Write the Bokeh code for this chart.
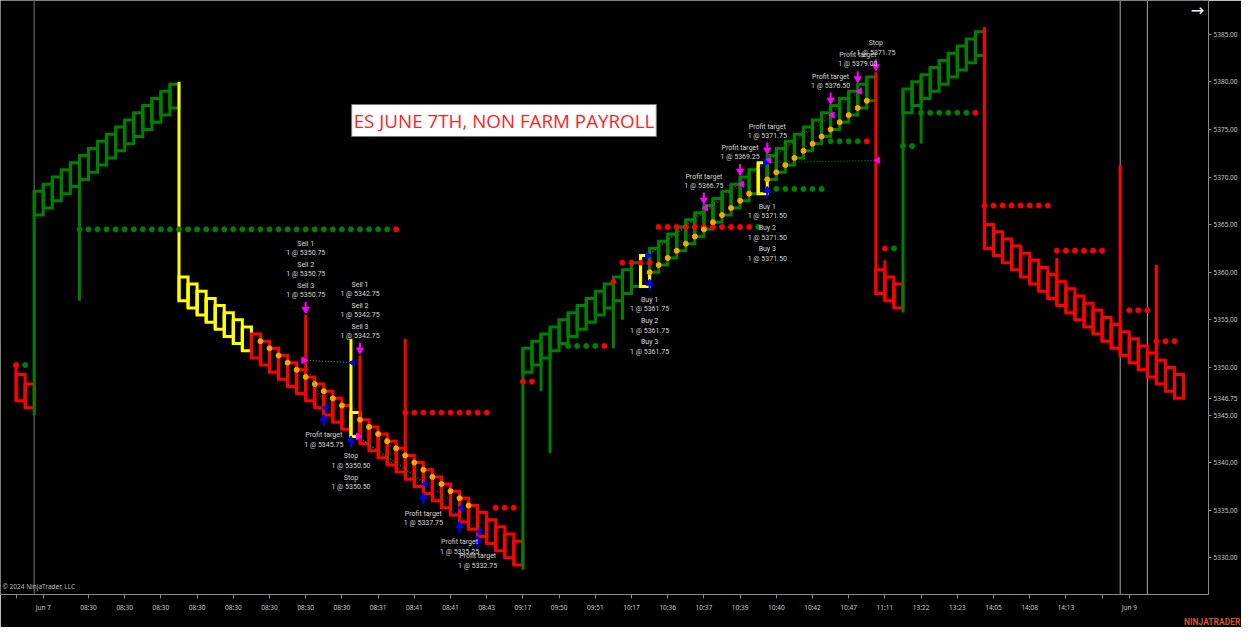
import math
from bokeh.plotting import figure
from bokeh.models import FixedTicker, PrintfTickFormatter, Label, Span, Title
from bokeh.core.properties import value
from bokeh.embed import file_html
from bokeh.resources import INLINE

# ---------------- data ----------------
bar_open = [
    5349.25, 5348.25,
    5366.00, 5366.75, 5367.50, 5368.25, 5369.00, 5369.75, 5370.50, 5371.25,
    5372.00, 5372.75, 5373.50, 5374.25, 5375.00, 5375.75, 5376.50, 5377.25,
    5359.50, 5358.75, 5358.00, 5357.25, 5356.50, 5355.75, 5355.00, 5354.25,
    5353.50, 5352.75, 5352.00, 5351.25, 5350.50, 5349.75, 5349.00, 5348.25,
    5347.50, 5346.75, 5346.00, 5345.25, 5344.50, 5343.75, 5343.00, 5342.25,
    5341.50, 5340.75, 5340.00, 5339.25, 5338.50, 5337.75, 5337.00, 5336.25,
    5335.50, 5334.75, 5334.00, 5333.25, 5332.50, 5331.75,
    5349.50, 5350.25, 5351.00, 5351.75, 5352.50, 5353.25, 5354.00, 5354.75,
    5355.50, 5356.25, 5357.00, 5357.75, 5358.50, 5358.50, 5360.00, 5360.75,
    5361.50, 5362.25, 5363.00, 5363.75, 5364.50, 5365.25, 5366.00, 5366.75,
    5367.50, 5368.25, 5368.25, 5369.75, 5370.50, 5371.25, 5372.00, 5372.75,
    5373.50, 5374.25, 5375.00, 5375.75, 5376.50, 5377.25, 5378.00,
    5360.25, 5359.50, 5358.75,
    5376.75, 5377.50, 5378.25, 5379.00, 5379.75, 5380.50, 5381.25, 5382.00, 5382.75,
    5365.00, 5364.25, 5363.50, 5362.75, 5362.00, 5361.25, 5360.50, 5359.75,
    5359.00, 5358.25, 5357.50, 5356.75, 5356.00, 5355.25, 5354.50, 5353.75,
    5353.00, 5352.25, 5351.50, 5350.75, 5350.00, 5349.25,
]
bar_close = [
    5346.50, 5345.75,
    5368.50, 5369.25, 5370.00, 5370.75, 5371.50, 5372.25, 5373.00, 5373.75,
    5374.50, 5375.25, 5376.00, 5376.75, 5377.50, 5378.25, 5379.00, 5379.75,
    5357.00, 5356.25, 5355.50, 5354.75, 5354.00, 5353.25, 5352.50, 5351.75,
    5351.00, 5350.25, 5349.50, 5348.75, 5348.00, 5347.25, 5346.50, 5345.75,
    5345.00, 5344.25, 5343.50, 5342.75, 5342.00, 5341.25, 5340.50, 5339.75,
    5339.00, 5338.25, 5337.50, 5336.75, 5336.00, 5335.25, 5334.50, 5333.75,
    5333.00, 5332.25, 5331.50, 5330.75, 5330.00, 5329.25,
    5352.00, 5352.75, 5353.50, 5354.25, 5355.00, 5355.75, 5356.50, 5357.25,
    5358.00, 5358.75, 5359.50, 5360.25, 5361.00, 5361.75, 5362.50, 5363.25,
    5364.00, 5364.75, 5365.50, 5366.25, 5367.00, 5367.75, 5368.50, 5369.25,
    5370.00, 5370.75, 5371.50, 5372.25, 5373.00, 5373.75, 5374.50, 5375.25,
    5376.00, 5376.75, 5377.50, 5378.25, 5379.00, 5379.75, 5380.50,
    5357.75, 5357.00, 5356.25,
    5379.25, 5380.00, 5380.75, 5381.50, 5382.25, 5383.00, 5383.75, 5384.50, 5385.25,
    5362.50, 5361.75, 5361.00, 5360.25, 5359.50, 5358.75, 5358.00, 5357.25,
    5356.50, 5355.75, 5355.00, 5354.25, 5353.50, 5352.75, 5352.00, 5351.25,
    5350.50, 5349.75, 5349.00, 5348.25, 5347.50, 5346.75,
]
bar_high = [
    5350.25, 5348.25,
    5368.50, 5369.25, 5370.00, 5370.75, 5371.50, 5372.25, 5373.00, 5373.75,
    5374.50, 5375.25, 5376.00, 5376.75, 5377.50, 5378.25, 5379.00, 5379.75,
    5380.00, 5358.75, 5358.00, 5357.25, 5356.50, 5355.75, 5355.00, 5354.25,
    5353.50, 5352.75, 5352.00, 5351.25, 5350.50, 5349.75, 5355.50, 5348.25,
    5347.50, 5346.75, 5346.00, 5353.00, 5351.25, 5343.75, 5343.00, 5342.25,
    5341.50, 5353.00, 5340.00, 5339.25, 5338.50, 5337.75, 5337.00, 5336.25,
    5335.50, 5334.75, 5334.00, 5333.25, 5332.50, 5331.75,
    5352.00, 5352.75, 5353.50, 5354.25, 5355.00, 5355.75, 5356.50, 5357.25,
    5358.00, 5358.75, 5359.50, 5360.25, 5361.00, 5361.75, 5362.50, 5363.25,
    5364.00, 5364.75, 5365.50, 5366.25, 5367.00, 5367.75, 5368.50, 5369.25,
    5370.00, 5370.75, 5371.50, 5372.25, 5373.00, 5373.75, 5374.50, 5375.25,
    5376.00, 5376.75, 5377.50, 5378.25, 5379.00, 5379.75, 5380.50,
    5381.00, 5361.25, 5358.75,
    5379.25, 5380.00, 5380.75, 5381.50, 5382.25, 5383.00, 5383.75, 5384.50, 5385.25,
    5385.75, 5364.25, 5363.50, 5362.75, 5362.00, 5361.25, 5360.50, 5359.75,
    5361.50, 5358.25, 5357.50, 5356.75, 5356.00, 5355.25, 5354.50, 5371.25,
    5353.00, 5352.25, 5351.50, 5360.75, 5350.00, 5349.25,
]
bar_low = [
    5346.50, 5345.75,
    5345.00, 5366.75, 5367.50, 5368.25, 5369.00, 5357.00, 5370.50, 5371.25,
    5372.00, 5372.75, 5373.50, 5374.25, 5375.00, 5375.75, 5376.50, 5377.25,
    5357.00, 5356.25, 5355.50, 5354.75, 5354.00, 5353.25, 5352.50, 5351.75,
    5351.00, 5350.25, 5349.50, 5348.75, 5348.00, 5347.25, 5346.50, 5345.75,
    5345.00, 5344.25, 5343.50, 5342.75, 5342.00, 5341.25, 5340.50, 5339.75,
    5339.00, 5338.25, 5337.50, 5336.75, 5336.00, 5335.25, 5334.50, 5333.75,
    5333.00, 5332.25, 5331.50, 5330.75, 5330.00, 5329.25,
    5328.75, 5350.25, 5347.50, 5341.00, 5352.50, 5353.25, 5354.00, 5354.75,
    5355.50, 5356.25, 5352.00, 5355.00, 5358.50, 5358.50, 5360.00, 5360.75,
    5361.50, 5362.25, 5363.00, 5363.75, 5364.50, 5365.25, 5366.00, 5366.75,
    5367.50, 5368.25, 5368.25, 5369.75, 5370.50, 5371.25, 5372.00, 5372.75,
    5373.50, 5374.25, 5375.00, 5375.75, 5376.50, 5377.25, 5378.00,
    5357.75, 5357.00, 5356.25,
    5355.75, 5377.50, 5373.50, 5379.00, 5379.75, 5380.50, 5381.25, 5382.00, 5382.75,
    5362.50, 5361.75, 5361.00, 5360.25, 5359.50, 5358.75, 5358.00, 5357.25,
    5356.50, 5355.75, 5355.00, 5354.25, 5353.50, 5352.75, 5352.00, 5351.25,
    5350.50, 5349.75, 5349.00, 5348.25, 5347.50, 5346.75,
]
# U = up brick, D = down brick, Y = signal (yellow) brick
bar_state = list(
    "DD" "UUUUUUUUUUUUUUUU" "YYYYYYYY" "DDDDDDDDDDD" "Y" "DDDDDDDDDDDDDDDDDD"
    "UUUUUUUUUUUUU" "Y" "UUUUUUUUUUUU" "Y" "UUUUUUUUUUUU" "DDD" "UUUUUUUUU"
    "DDDDDDDDDDDDDDDDDDDDDD"
)
# bars carrying the orange trailing dot (at the brick open)
trail_bars = [27, 28, 29, 30, 31, 32, 33, 34, 35, 36,
              38, 39, 40, 41, 42, 43, 44, 45, 46, 47, 48, 49, 50,
              70, 71, 72, 73, 74, 75, 76, 77, 78, 79, 80, 81,
              83, 84, 85, 86, 87, 88, 89, 90, 91, 92, 93, 94]
# dotted level rows
level_start = [0, 7, 43, 53, 56, 61, 66, 67, 71, 84, 90, 96, 98, 100, 107, 115, 123, 126]
level_end = [1, 42, 52, 55, 57, 65, 66, 70, 82, 89, 94, 97, 99, 106, 114, 120, 125, 128]
level_price = [5350.25, 5364.50, 5345.25, 5335.25, 5348.50, 5352.25, 5359.00, 5361.00,
               5364.75, 5368.75, 5373.75, 5362.50, 5373.25, 5376.75, 5367.00, 5362.25,
               5356.00, 5352.75]
level_state = ["D", "U", "D", "D", "D", "U", "D", "D", "D", "U", "U", "D", "U", "U", "D", "D", "D", "D"]
level_last = ["U", "D", "D", "D", "D", "D", "D", "D", "U", "U", "D", "U", "U", "D", "D", "D", "D", "D"]
# executions
exec_bar = [32, 32, 32, 34, 37, 37, 38, 38, 38, 45, 49, 51,
            70, 70, 70, 76, 80, 83, 83, 83, 83, 90, 93, 95]
exec_price = [5350.75, 5350.75, 5350.75, 5345.75, 5350.50, 5350.50, 5342.75, 5342.75, 5342.75,
              5337.75, 5335.25, 5332.75,
              5361.75, 5361.75, 5361.75, 5366.75, 5369.25, 5371.75, 5371.50, 5371.50, 5371.50,
              5376.50, 5379.00, 5371.75]
exec_action = ["Sell", "Sell", "Sell", "Buy", "Buy", "Buy", "Sell", "Sell", "Sell", "Buy", "Buy", "Buy",
               "Buy", "Buy", "Buy", "Sell", "Sell", "Sell", "Buy", "Buy", "Buy", "Sell", "Sell", "Sell"]
exec_name = ["Sell 1", "Sell 2", "Sell 3", "Profit target", "Stop", "Stop", "Sell 1", "Sell 2", "Sell 3",
             "Profit target", "Profit target", "Profit target",
             "Buy 1", "Buy 2", "Buy 3", "Profit target", "Profit target", "Profit target",
             "Buy 1", "Buy 2", "Buy 3", "Profit target", "Profit target", "Stop"]
exec_role = ["entry"] * 3 + ["exit"] * 3 + ["entry"] * 3 + ["exit"] * 3 + \
            ["entry"] * 3 + ["exit"] * 3 + ["entry"] * 3 + ["exit"] * 3
# entry -> exit pairs (index into executions)
trade_entry = [0, 1, 2, 6, 7, 8, 12, 13, 14, 18, 19, 20]
trade_exit = [3, 4, 5, 9, 10, 11, 15, 16, 17, 21, 22, 23]

x_tick_bars = [0, 3, 8, 12, 16, 20, 24, 28, 32, 36, 40, 44, 48, 52, 56, 60, 64, 68, 72, 76,
               80, 84, 88, 92, 96, 100, 104, 108, 112, 116, 120, 123]
x_tick_labels = ["", "Jun 7", "08:30", "08:30", "08:30", "08:30", "08:30", "08:30", "08:30", "08:30",
                 "08:31", "08:41", "08:41", "08:43", "09:17", "09:50", "09:51", "10:17", "10:36",
                 "10:37", "10:39", "10:40", "10:42", "10:47", "11:11", "13:22", "13:23", "14:05",
                 "14:08", "14:13", "", "Jun 9"]
y_ticks = [5330, 5335, 5340, 5345, 5350, 5355, 5360, 5365, 5370, 5375, 5380, 5385]
session_breaks = [2, 122, 125]
title_text = "ES JUNE 7TH, NON FARM PAYROLL"
last_price = 5346.75

# ---------------- layout / style ----------------
FIG_W, FIG_H = 1241, 627
BORDER_R, BORDER_B = 33, 33
FRAME_W, FRAME_H = FIG_W - BORDER_R, FIG_H - BORDER_B
PPB = 9.05   # px per bar
PPU = 9.52   # px per price point
X_START = -1.724
X_END = X_START + FRAME_W / PPB
Y_END = 5388.54
Y_START = Y_END - FRAME_H / PPU


def fx(px):
    return X_START + px / PPB


def fy(py):
    return Y_END - py / PPU


COL = {"U": "#008000", "D": "#ff0000", "Y": "#ffff00"}
ACT_COL = {"Sell": "#ff00ff", "Buy": "#0000ff"}
TXT = "#d6d6d6"
FONT = "Noto Sans"

p = figure(width=FIG_W, height=FIG_H, x_range=(X_START, X_END), y_range=(Y_START, Y_END),
           output_backend="svg", toolbar_location=None, y_axis_location="right",
           min_border_left=0, min_border_top=0, min_border_right=BORDER_R, min_border_bottom=BORDER_B,
           background_fill_color="black", border_fill_color="black", outline_line_color=None)
p.grid.visible = False

ya = p.yaxis[0]
ya.ticker = FixedTicker(ticks=y_ticks + [last_price])
ya.formatter = PrintfTickFormatter(format="%.2f")
xa = p.xaxis[0]
xa.ticker = FixedTicker(ticks=x_tick_bars)
xa.major_label_overrides = {b: t for b, t in zip(x_tick_bars, x_tick_labels)}
for ax in (xa, ya):
    ax.major_label_text_font = FONT
    ax.major_label_text_color = "#c8c8c8"
    ax.major_label_text_font_size = "6.5px"
    ax.axis_line_color = "#8a8a8a"
    ax.major_tick_line_color = "#8a8a8a"
    ax.major_tick_in = 0
    ax.minor_tick_in = 0
    ax.minor_tick_out = 0
ya.major_tick_out = 3
ya.major_label_standoff = 2
xa.major_tick_out = 4
xa.major_label_standoff = 4

p.add_layout(Title(text="NINJATRADER", align="right", text_font="Roboto", text_font_size="8.5px",
                   text_font_style="bold", text_color="#d9532c", standoff=0, offset=-32,
                   background_fill_color=None), "below")

for b in session_breaks:
    p.add_layout(Span(location=b, dimension="height", level="underlay",
                      line_color="#505050" if b == session_breaks[0] else "#a8a8a8",
                      line_width=1.5 if b == session_breaks[0] else 1))

# bricks
n = len(bar_open)
idx = list(range(n))
colors = [COL[s] for s in bar_state]
p.quad(left=idx, right=[i + 1 for i in idx],
       top=[max(o, c) for o, c in zip(bar_open, bar_close)],
       bottom=[min(o, c) for o, c in zip(bar_open, bar_close)],
       fill_color=None, line_color=colors, line_width=3, line_join="miter")
p.segment(x0=idx, y0=bar_low, x1=idx, y1=bar_high, line_color=colors, line_width=3)

# level dots
lx, ly, lc = [], [], []
for s, e, pr, st, la in zip(level_start, level_end, level_price, level_state, level_last):
    for b in range(s, e + 1):
        lx.append(b)
        ly.append(pr)
        lc.append(COL[la] if b == e else COL[st])
p.scatter(x=lx, y=ly, size=5, color=lc)

# trailing orange dots
p.scatter(x=trail_bars, y=[bar_open[b] for b in trail_bars], size=5, color="#ffa500")

# trade lines
ENTRY_DX, EXIT_DX = -0.2, 0.2
p.segment(x0=[exec_bar[k] + ENTRY_DX for k in trade_entry], y0=[exec_price[k] for k in trade_entry],
          x1=[exec_bar[k] + EXIT_DX for k in trade_exit], y1=[exec_price[k] for k in trade_exit],
          line_color="#1f8f1f", line_width=1, line_dash="1 2")

# execution markers
mk_x, mk_y, mk_c, mk_a = [], [], [], []
for k in range(len(exec_bar)):
    ent = exec_role[k] == "entry"
    mk_x.append(exec_bar[k] + (ENTRY_DX if ent else EXIT_DX))
    mk_y.append(exec_price[k])
    mk_c.append(ACT_COL[exec_action[k]])
    mk_a.append(-math.pi / 2 if ent else math.pi / 2)
p.scatter(x=mk_x, y=mk_y, marker="triangle", size=6, angle=mk_a, color=mk_c)

# arrows and execution texts
groups = {}
for k in range(len(exec_bar)):
    groups.setdefault((exec_bar[k], exec_action[k]), []).append(k)

sh_x, sh_y0, sh_y1, sh_c = [], [], [], []
hd_x, hd_y, hd_c, hd_m = [], [], [], []
tx, ty, tt = [], [], []
for (b, act), ks in groups.items():
    col = ACT_COL[act]
    m = len(ks)
    if act == "Sell":
        yc = bar_high[b] + 8.0 / PPU
        sh_x.append(b); sh_y0.append(yc + 5 / PPU); sh_y1.append(yc - 1 / PPU); sh_c.append(col)
        hd_x.append(b); hd_y.append(yc - 2.5 / PPU); hd_c.append(col); hd_m.append("inverted_triangle")
        for j, k in enumerate(ks):
            up = m - 1 - j
            tx += [b, b]
            ty += [yc + (21.0 + up * 21) / PPU, yc + (11.7 + up * 21) / PPU]
            tt += [exec_name[k], "1 @ %.2f" % exec_price[k]]
    else:
        gap = 13.5 if exec_role[ks[0]] == "entry" else 6.0
        yc = bar_low[b] - gap / PPU
        sh_x.append(b); sh_y0.append(yc - 5 / PPU); sh_y1.append(yc + 1 / PPU); sh_c.append(col)
        hd_x.append(b); hd_y.append(yc + 2.5 / PPU); hd_c.append(col); hd_m.append("triangle")
        for j, k in enumerate(ks):
            tx += [b, b]
            ty += [yc - (14.0 + j * 21.3) / PPU, yc - (23.5 + j * 21.3) / PPU]
            tt += [exec_name[k], "1 @ %.2f" % exec_price[k]]
p.segment(x0=sh_x, y0=sh_y0, x1=sh_x, y1=sh_y1, line_color=sh_c, line_width=2)
p.scatter(x=hd_x, y=hd_y, marker=hd_m, size=7, color=hd_c)
p.text(x=tx, y=ty, text=tt, text_align="center", text_baseline="middle",
       text_font_size="7px", text_color=TXT, text_font=value("Roboto"))

# annotations
p.add_layout(Label(x=fx(503.5), y=fy(120), text=title_text, text_align="center",
                   text_baseline="middle", text_font="Open Sans", text_font_size="18.8px",
                   text_color="#ff1f1f", background_fill_color="white",
                   border_line_color="#7a7a7a", border_line_width=1, padding=(2, 3)))
p.add_layout(Label(x=fx(2), y=fy(FRAME_H - 8), text="\u00a9 2024 NinjaTrader, LLC", text_align="left",
                   text_baseline="middle", text_font=FONT, text_font_size="6.5px",
                   text_color="#bdbdbd"))
p.add_layout(Label(x=fx(1197), y=fy(10), text="\u2192", text_align="center",
                   text_baseline="middle", text_font="DejaVu Sans", text_font_size="16px",
                   text_color="white"))

open("out.html", "w").write(file_html(p, INLINE))
